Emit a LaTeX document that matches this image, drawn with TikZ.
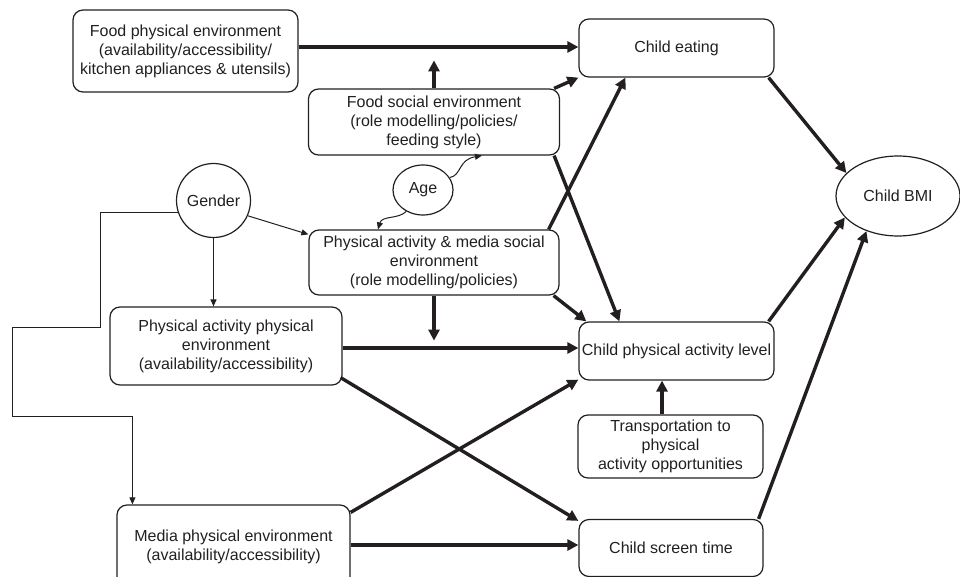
\documentclass[tikz,border=0pt]{standalone}
\usepackage{fontspec}
\setmainfont{Liberation Sans}
\usetikzlibrary{arrows.meta,calc,shapes.geometric}
\definecolor{ink}{HTML}{231F20}
\begin{document}
\begin{tikzpicture}[x=1pt,y=-1pt,
  box/.style={draw=ink, rounded corners=10pt, align=center, inner sep=0pt, line width=1.2pt, text=ink, font=\fontsize{16}{19}\selectfont},
  oval/.style={draw=ink, ellipse, align=center, inner sep=0pt, line width=1.2pt, text=ink, font=\fontsize{16}{19}\selectfont},
  thickarr/.style={draw=ink, line width=3.4pt, -{Triangle[length=11pt,width=11pt]}},
  thinarr/.style={draw=ink, line width=1pt, -{Triangle[length=7pt,width=6pt]}}]
\useasboundingbox (0,0) rectangle (960,577);

% nodes
\node[box, minimum width=225, minimum height=82] (fpe) at (185.5,51) {Food physical environment\\(availability/accessibility/\\kitchen appliances \& utensils)};
\node[box, minimum width=195, minimum height=58] (ce) at (676.5,48) {Child eating};
\node[box, minimum width=251, minimum height=66] (fse) at (434,122) {Food social environment\\(role modelling/policies/\\feeding style)};
\node[oval, minimum width=60, minimum height=50] (age) at (423,190) {Age};
\node[box, minimum width=250, minimum height=65] (pams) at (434,262.5) {Physical activity \& media social\\environment\\(role modelling/policies)};
\node[draw=ink, circle, line width=1.2pt, minimum size=74, inner sep=0pt, text=ink, font=\fontsize{16}{19}\selectfont] (gender) at (213.5,200.5) {Gender};
\node[box, minimum width=232, minimum height=78] (pape) at (226,346) {Physical activity physical\\environment\\(availability/accessibility)};
\node[box, minimum width=233, minimum height=84] (mpe) at (233.5,547) {Media physical environment\\(availability/accessibility)};
\node[oval, minimum width=124, minimum height=80] (bmi) at (898,196) {Child BMI};
\node[box, minimum width=195, minimum height=58] (cpal) at (676.5,351) {Child physical activity level};
\node[box, minimum width=185, minimum height=63] (tr) at (670.5,446.5) {Transportation to\\physical\\activity opportunities};
\node[box, minimum width=184, minimum height=57] (cst) at (671,548) {Child screen time};

% thick arrows
\draw[thickarr] ($(fpe.east)+(0,-4)$) -- ($(ce.west)+(0,-1)$);
\draw[thickarr] (fse.north) -- ($(fse.north)+(0,-28)$);
\draw[thickarr] ($(fse.north east)+(-6,0)$) -- (ce.south west);
\draw[thickarr] ($(fse.south east)+(-6,0)$) -- ($(cpal.north west)+(41,0)$);
\draw[thickarr] ($(pams.north east)+(-11,0)$) -- ($(ce.south west)+(47,0)$);
\draw[thickarr] ($(pams.south east)+(-6,0)$) -- ($(cpal.north west)+(8,0)$);
\draw[thickarr] (pams.south) -- ($(pams.south)+(0,45)$);
\draw[thickarr] ($(pape.east)+(0,2)$) -- ($(cpal.west)+(0,-3)$);
\draw[thickarr] ($(pape.south east)+(-2,-8)$) -- ($(cst.north west)+(0,2)$);
\draw[thickarr] ($(mpe.north east)+(0,8)$) -- ($(cpal.south west)+(0,-1)$);
\draw[thickarr] ($(mpe.east)+(0,-2)$) -- ($(cst.west)+(0,-3)$);
\draw[thickarr] ($(tr.north)+(-8.5,0)$) -- ($(cpal.south)+(-14.5,0)$);
\draw[thickarr] ($(ce.south east)+(-6,0)$) -- (bmi.156);
\draw[thickarr] ($(cpal.north east)+(-6,0)$) -- (bmi.202);
\draw[thickarr] ($(cst.north east)+(-5,0)$) -- (bmi.228);

% thin arrows
\draw[thinarr] (gender.-24) -- ($(pams.north west)+(0,5)$);
\draw[thinarr] (gender.south) -- (gender.south |- pape.north);
\draw[thinarr] (gender.199) -| (100,327) -| (12,416) -| ($(mpe.north west)+(16,0)$);
\draw[thinarr] (age.25) .. controls +(12,-2) and +(-24,4) .. ($(fse.south)+(48,0)$);
\draw[thinarr] (age.232) .. controls +(-8,8) and +(4,-14) .. ($(pams.north)+(-56,0)$);
\end{tikzpicture}
\end{document}
